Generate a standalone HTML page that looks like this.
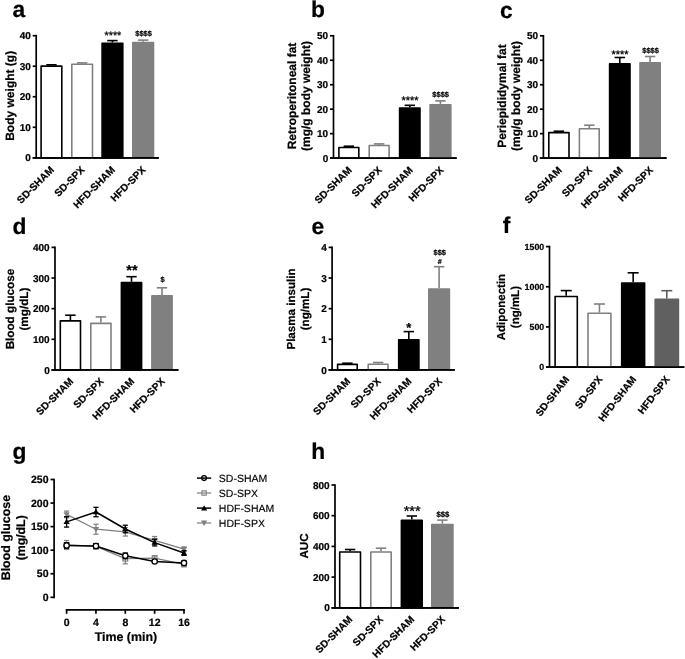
<!DOCTYPE html>
<html lang="en"><head><meta charset="utf-8"><title>Figure</title>
<style>
html,body{margin:0;padding:0;background:#fff;}
body{width:685px;height:659px;overflow:hidden;}
svg{display:block;font-family:"Liberation Sans", sans-serif;will-change:transform;text-rendering:geometricPrecision;}
text{stroke:#000;stroke-width:.22px;stroke-linejoin:round;}
text.n{stroke-width:.15px;}
text.s{stroke-width:.3px;}
</style></head><body>
<svg width="685" height="659" viewBox="0 0 685 659">
<rect width="685" height="659" fill="#fff"/>
<text x="12.50" y="17.40" font-size="22.8" text-anchor="start" font-weight="bold" fill="#000">a</text>
<line x1="36.20" y1="34.85" x2="36.20" y2="158.65" stroke="#000" stroke-width="1.7" stroke-linecap="butt"/>
<line x1="32.70" y1="157.80" x2="158.80" y2="157.80" stroke="#000" stroke-width="1.7" stroke-linecap="butt"/>
<text x="30.90" y="161.40" font-size="10" text-anchor="end" font-weight="bold" fill="#000">0</text>
<line x1="32.70" y1="127.28" x2="36.20" y2="127.28" stroke="#000" stroke-width="1.7" stroke-linecap="butt"/>
<text x="30.90" y="130.88" font-size="10" text-anchor="end" font-weight="bold" fill="#000">10</text>
<line x1="32.70" y1="96.75" x2="36.20" y2="96.75" stroke="#000" stroke-width="1.7" stroke-linecap="butt"/>
<text x="30.90" y="100.35" font-size="10" text-anchor="end" font-weight="bold" fill="#000">20</text>
<line x1="32.70" y1="66.23" x2="36.20" y2="66.23" stroke="#000" stroke-width="1.7" stroke-linecap="butt"/>
<text x="30.90" y="69.83" font-size="10" text-anchor="end" font-weight="bold" fill="#000">30</text>
<line x1="32.70" y1="35.70" x2="36.20" y2="35.70" stroke="#000" stroke-width="1.7" stroke-linecap="butt"/>
<text x="30.90" y="39.30" font-size="10" text-anchor="end" font-weight="bold" fill="#000">40</text>
<line x1="51.45" y1="64.80" x2="51.45" y2="65.30" stroke="#000" stroke-width="1.6" stroke-linecap="butt"/>
<line x1="46.25" y1="64.80" x2="56.65" y2="64.80" stroke="#000" stroke-width="1.6" stroke-linecap="butt"/>
<rect x="41.10" y="66.10" width="20.70" height="91.70" fill="#fff" stroke="#000" stroke-width="1.6" stroke-linejoin="round"/>
<line x1="82.15" y1="62.90" x2="82.15" y2="63.40" stroke="#808080" stroke-width="1.6" stroke-linecap="butt"/>
<line x1="76.95" y1="62.90" x2="87.35" y2="62.90" stroke="#808080" stroke-width="1.6" stroke-linecap="butt"/>
<rect x="71.80" y="64.20" width="20.70" height="93.60" fill="#fff" stroke="#808080" stroke-width="1.6" stroke-linejoin="round"/>
<line x1="112.45" y1="40.60" x2="112.45" y2="42.40" stroke="#000" stroke-width="1.6" stroke-linecap="butt"/>
<line x1="107.25" y1="40.60" x2="117.65" y2="40.60" stroke="#000" stroke-width="1.6" stroke-linecap="butt"/>
<rect x="102.10" y="43.20" width="20.70" height="114.60" fill="#000" stroke="#000" stroke-width="1.6" stroke-linejoin="round"/>
<line x1="143.15" y1="40.10" x2="143.15" y2="41.80" stroke="#808080" stroke-width="1.6" stroke-linecap="butt"/>
<line x1="137.95" y1="40.10" x2="148.35" y2="40.10" stroke="#808080" stroke-width="1.6" stroke-linecap="butt"/>
<rect x="132.80" y="42.60" width="20.70" height="115.20" fill="#808080" stroke="#808080" stroke-width="1.6" stroke-linejoin="round"/>
<line x1="32.70" y1="157.80" x2="158.80" y2="157.80" stroke="#000" stroke-width="1.7" stroke-linecap="butt"/>
<text x="54.70" y="170.50" font-size="10.2" text-anchor="end" font-weight="bold" fill="#000" transform="rotate(-45 54.70 170.50)">SD-SHAM</text>
<text x="85.40" y="170.50" font-size="10.2" text-anchor="end" font-weight="bold" fill="#000" transform="rotate(-45 85.40 170.50)">SD-SPX</text>
<text x="115.80" y="170.50" font-size="10.2" text-anchor="end" font-weight="bold" fill="#000" transform="rotate(-45 115.80 170.50)">HFD-SHAM</text>
<text x="146.40" y="170.50" font-size="10.2" text-anchor="end" font-weight="bold" fill="#000" transform="rotate(-45 146.40 170.50)">HFD-SPX</text>
<text x="112.90" y="38.50" font-size="10.8" text-anchor="middle" font-weight="normal" fill="#000" class="s">****</text>
<text x="143.60" y="35.90" font-size="7.5" text-anchor="middle" font-weight="bold" fill="#000">$$$$</text>
<text x="13.70" y="95.80" font-size="12" text-anchor="middle" font-weight="bold" fill="#000" transform="rotate(-90 13.70 95.80)">Body weight (g)</text>
<text x="311.00" y="17.20" font-size="22.8" text-anchor="start" font-weight="bold" fill="#000">b</text>
<line x1="333.50" y1="34.95" x2="333.50" y2="158.95" stroke="#000" stroke-width="1.7" stroke-linecap="butt"/>
<line x1="330.00" y1="158.10" x2="456.60" y2="158.10" stroke="#000" stroke-width="1.7" stroke-linecap="butt"/>
<text x="328.20" y="161.70" font-size="10" text-anchor="end" font-weight="bold" fill="#000">0</text>
<line x1="330.00" y1="133.64" x2="333.50" y2="133.64" stroke="#000" stroke-width="1.7" stroke-linecap="butt"/>
<text x="328.20" y="137.24" font-size="10" text-anchor="end" font-weight="bold" fill="#000">10</text>
<line x1="330.00" y1="109.18" x2="333.50" y2="109.18" stroke="#000" stroke-width="1.7" stroke-linecap="butt"/>
<text x="328.20" y="112.78" font-size="10" text-anchor="end" font-weight="bold" fill="#000">20</text>
<line x1="330.00" y1="84.72" x2="333.50" y2="84.72" stroke="#000" stroke-width="1.7" stroke-linecap="butt"/>
<text x="328.20" y="88.32" font-size="10" text-anchor="end" font-weight="bold" fill="#000">30</text>
<line x1="330.00" y1="60.26" x2="333.50" y2="60.26" stroke="#000" stroke-width="1.7" stroke-linecap="butt"/>
<text x="328.20" y="63.86" font-size="10" text-anchor="end" font-weight="bold" fill="#000">40</text>
<line x1="330.00" y1="35.80" x2="333.50" y2="35.80" stroke="#000" stroke-width="1.7" stroke-linecap="butt"/>
<text x="328.20" y="39.40" font-size="10" text-anchor="end" font-weight="bold" fill="#000">50</text>
<line x1="348.85" y1="146.20" x2="348.85" y2="146.70" stroke="#000" stroke-width="1.6" stroke-linecap="butt"/>
<line x1="343.65" y1="146.20" x2="354.05" y2="146.20" stroke="#000" stroke-width="1.6" stroke-linecap="butt"/>
<rect x="338.90" y="147.50" width="19.90" height="10.60" fill="#fff" stroke="#000" stroke-width="1.6" stroke-linejoin="round"/>
<line x1="379.15" y1="143.90" x2="379.15" y2="144.70" stroke="#808080" stroke-width="1.6" stroke-linecap="butt"/>
<line x1="373.95" y1="143.90" x2="384.35" y2="143.90" stroke="#808080" stroke-width="1.6" stroke-linecap="butt"/>
<rect x="369.20" y="145.50" width="19.90" height="12.60" fill="#fff" stroke="#808080" stroke-width="1.6" stroke-linejoin="round"/>
<line x1="409.80" y1="105.30" x2="409.80" y2="107.30" stroke="#000" stroke-width="1.6" stroke-linecap="butt"/>
<line x1="404.60" y1="105.30" x2="415.00" y2="105.30" stroke="#000" stroke-width="1.6" stroke-linecap="butt"/>
<rect x="399.60" y="108.10" width="20.40" height="50.00" fill="#000" stroke="#000" stroke-width="1.6" stroke-linejoin="round"/>
<line x1="440.45" y1="100.90" x2="440.45" y2="104.00" stroke="#808080" stroke-width="1.6" stroke-linecap="butt"/>
<line x1="435.25" y1="100.90" x2="445.65" y2="100.90" stroke="#808080" stroke-width="1.6" stroke-linecap="butt"/>
<rect x="430.10" y="104.80" width="20.70" height="53.30" fill="#808080" stroke="#808080" stroke-width="1.6" stroke-linejoin="round"/>
<line x1="330.00" y1="158.10" x2="456.60" y2="158.10" stroke="#000" stroke-width="1.7" stroke-linecap="butt"/>
<text x="352.40" y="170.70" font-size="10.2" text-anchor="end" font-weight="bold" fill="#000" transform="rotate(-45 352.40 170.70)">SD-SHAM</text>
<text x="382.70" y="170.70" font-size="10.2" text-anchor="end" font-weight="bold" fill="#000" transform="rotate(-45 382.70 170.70)">SD-SPX</text>
<text x="413.60" y="170.70" font-size="10.2" text-anchor="end" font-weight="bold" fill="#000" transform="rotate(-45 413.60 170.70)">HFD-SHAM</text>
<text x="444.30" y="170.70" font-size="10.2" text-anchor="end" font-weight="bold" fill="#000" transform="rotate(-45 444.30 170.70)">HFD-SPX</text>
<text x="410.00" y="103.80" font-size="11" text-anchor="middle" font-weight="normal" fill="#000" class="s">****</text>
<text x="440.70" y="96.70" font-size="7.5" text-anchor="middle" font-weight="bold" fill="#000">$$$$</text>
<text x="295.50" y="96.00" font-size="12" text-anchor="middle" font-weight="bold" fill="#000" transform="rotate(-90 295.50 96.00)">Retroperitoneal fat</text>
<text x="309.50" y="96.00" font-size="12" text-anchor="middle" font-weight="bold" fill="#000" transform="rotate(-90 309.50 96.00)">(mg/g body weight)</text>
<text x="500.10" y="17.50" font-size="22.8" text-anchor="start" font-weight="bold" fill="#000">c</text>
<line x1="543.40" y1="34.95" x2="543.40" y2="158.95" stroke="#000" stroke-width="1.7" stroke-linecap="butt"/>
<line x1="539.90" y1="158.10" x2="666.50" y2="158.10" stroke="#000" stroke-width="1.7" stroke-linecap="butt"/>
<text x="538.10" y="161.70" font-size="10" text-anchor="end" font-weight="bold" fill="#000">0</text>
<line x1="539.90" y1="133.64" x2="543.40" y2="133.64" stroke="#000" stroke-width="1.7" stroke-linecap="butt"/>
<text x="538.10" y="137.24" font-size="10" text-anchor="end" font-weight="bold" fill="#000">10</text>
<line x1="539.90" y1="109.18" x2="543.40" y2="109.18" stroke="#000" stroke-width="1.7" stroke-linecap="butt"/>
<text x="538.10" y="112.78" font-size="10" text-anchor="end" font-weight="bold" fill="#000">20</text>
<line x1="539.90" y1="84.72" x2="543.40" y2="84.72" stroke="#000" stroke-width="1.7" stroke-linecap="butt"/>
<text x="538.10" y="88.32" font-size="10" text-anchor="end" font-weight="bold" fill="#000">30</text>
<line x1="539.90" y1="60.26" x2="543.40" y2="60.26" stroke="#000" stroke-width="1.7" stroke-linecap="butt"/>
<text x="538.10" y="63.86" font-size="10" text-anchor="end" font-weight="bold" fill="#000">40</text>
<line x1="539.90" y1="35.80" x2="543.40" y2="35.80" stroke="#000" stroke-width="1.7" stroke-linecap="butt"/>
<text x="538.10" y="39.40" font-size="10" text-anchor="end" font-weight="bold" fill="#000">50</text>
<line x1="558.90" y1="131.20" x2="558.90" y2="131.80" stroke="#000" stroke-width="1.6" stroke-linecap="butt"/>
<line x1="553.70" y1="131.20" x2="564.10" y2="131.20" stroke="#000" stroke-width="1.6" stroke-linecap="butt"/>
<rect x="548.80" y="132.60" width="20.20" height="25.50" fill="#fff" stroke="#000" stroke-width="1.6" stroke-linejoin="round"/>
<line x1="589.30" y1="125.20" x2="589.30" y2="128.00" stroke="#808080" stroke-width="1.6" stroke-linecap="butt"/>
<line x1="584.10" y1="125.20" x2="594.50" y2="125.20" stroke="#808080" stroke-width="1.6" stroke-linecap="butt"/>
<rect x="579.40" y="128.80" width="19.80" height="29.30" fill="#fff" stroke="#808080" stroke-width="1.6" stroke-linejoin="round"/>
<line x1="619.80" y1="57.50" x2="619.80" y2="63.10" stroke="#000" stroke-width="1.6" stroke-linecap="butt"/>
<line x1="614.60" y1="57.50" x2="625.00" y2="57.50" stroke="#000" stroke-width="1.6" stroke-linecap="butt"/>
<rect x="609.60" y="63.90" width="20.40" height="94.20" fill="#000" stroke="#000" stroke-width="1.6" stroke-linejoin="round"/>
<line x1="650.10" y1="56.50" x2="650.10" y2="62.10" stroke="#808080" stroke-width="1.6" stroke-linecap="butt"/>
<line x1="644.90" y1="56.50" x2="655.30" y2="56.50" stroke="#808080" stroke-width="1.6" stroke-linecap="butt"/>
<rect x="640.00" y="62.90" width="20.20" height="95.20" fill="#808080" stroke="#808080" stroke-width="1.6" stroke-linejoin="round"/>
<line x1="539.90" y1="158.10" x2="666.50" y2="158.10" stroke="#000" stroke-width="1.7" stroke-linecap="butt"/>
<text x="562.50" y="170.70" font-size="10.2" text-anchor="end" font-weight="bold" fill="#000" transform="rotate(-45 562.50 170.70)">SD-SHAM</text>
<text x="592.90" y="170.70" font-size="10.2" text-anchor="end" font-weight="bold" fill="#000" transform="rotate(-45 592.90 170.70)">SD-SPX</text>
<text x="623.60" y="170.70" font-size="10.2" text-anchor="end" font-weight="bold" fill="#000" transform="rotate(-45 623.60 170.70)">HFD-SHAM</text>
<text x="653.80" y="170.70" font-size="10.2" text-anchor="end" font-weight="bold" fill="#000" transform="rotate(-45 653.80 170.70)">HFD-SPX</text>
<text x="620.00" y="58.00" font-size="11" text-anchor="middle" font-weight="normal" fill="#000" class="s">****</text>
<text x="650.60" y="52.70" font-size="7.5" text-anchor="middle" font-weight="bold" fill="#000">$$$$</text>
<text x="505.50" y="96.00" font-size="12" text-anchor="middle" font-weight="bold" fill="#000" transform="rotate(-90 505.50 96.00)">Periepididymal fat</text>
<text x="519.50" y="96.00" font-size="12" text-anchor="middle" font-weight="bold" fill="#000" transform="rotate(-90 519.50 96.00)">(mg/g body weight)</text>
<text x="12.40" y="233.60" font-size="22.8" text-anchor="start" font-weight="bold" fill="#000">d</text>
<line x1="55.00" y1="246.55" x2="55.00" y2="370.75" stroke="#000" stroke-width="1.7" stroke-linecap="butt"/>
<line x1="51.50" y1="369.90" x2="178.40" y2="369.90" stroke="#000" stroke-width="1.7" stroke-linecap="butt"/>
<text x="49.70" y="373.50" font-size="10" text-anchor="end" font-weight="bold" fill="#000">0</text>
<line x1="51.50" y1="339.27" x2="55.00" y2="339.27" stroke="#000" stroke-width="1.7" stroke-linecap="butt"/>
<text x="49.70" y="342.88" font-size="10" text-anchor="end" font-weight="bold" fill="#000">100</text>
<line x1="51.50" y1="308.65" x2="55.00" y2="308.65" stroke="#000" stroke-width="1.7" stroke-linecap="butt"/>
<text x="49.70" y="312.25" font-size="10" text-anchor="end" font-weight="bold" fill="#000">200</text>
<line x1="51.50" y1="278.02" x2="55.00" y2="278.02" stroke="#000" stroke-width="1.7" stroke-linecap="butt"/>
<text x="49.70" y="281.62" font-size="10" text-anchor="end" font-weight="bold" fill="#000">300</text>
<line x1="51.50" y1="247.40" x2="55.00" y2="247.40" stroke="#000" stroke-width="1.7" stroke-linecap="butt"/>
<text x="49.70" y="251.00" font-size="10" text-anchor="end" font-weight="bold" fill="#000">400</text>
<line x1="70.40" y1="315.20" x2="70.40" y2="320.10" stroke="#000" stroke-width="1.6" stroke-linecap="butt"/>
<line x1="65.20" y1="315.20" x2="75.60" y2="315.20" stroke="#000" stroke-width="1.6" stroke-linecap="butt"/>
<rect x="60.30" y="320.90" width="20.20" height="49.00" fill="#fff" stroke="#000" stroke-width="1.6" stroke-linejoin="round"/>
<line x1="100.90" y1="316.90" x2="100.90" y2="322.60" stroke="#808080" stroke-width="1.6" stroke-linecap="butt"/>
<line x1="95.70" y1="316.90" x2="106.10" y2="316.90" stroke="#808080" stroke-width="1.6" stroke-linecap="butt"/>
<rect x="90.80" y="323.40" width="20.20" height="46.50" fill="#fff" stroke="#808080" stroke-width="1.6" stroke-linejoin="round"/>
<line x1="131.50" y1="276.70" x2="131.50" y2="281.80" stroke="#000" stroke-width="1.6" stroke-linecap="butt"/>
<line x1="126.30" y1="276.70" x2="136.70" y2="276.70" stroke="#000" stroke-width="1.6" stroke-linecap="butt"/>
<rect x="121.40" y="282.60" width="20.20" height="87.30" fill="#000" stroke="#000" stroke-width="1.6" stroke-linejoin="round"/>
<line x1="162.00" y1="287.80" x2="162.00" y2="295.10" stroke="#808080" stroke-width="1.6" stroke-linecap="butt"/>
<line x1="156.80" y1="287.80" x2="167.20" y2="287.80" stroke="#808080" stroke-width="1.6" stroke-linecap="butt"/>
<rect x="151.90" y="295.90" width="20.20" height="74.00" fill="#808080" stroke="#808080" stroke-width="1.6" stroke-linejoin="round"/>
<line x1="51.50" y1="369.90" x2="178.40" y2="369.90" stroke="#000" stroke-width="1.7" stroke-linecap="butt"/>
<text x="73.90" y="382.00" font-size="10.2" text-anchor="end" font-weight="bold" fill="#000" transform="rotate(-45 73.90 382.00)">SD-SHAM</text>
<text x="104.40" y="382.00" font-size="10.2" text-anchor="end" font-weight="bold" fill="#000" transform="rotate(-45 104.40 382.00)">SD-SPX</text>
<text x="135.00" y="382.00" font-size="10.2" text-anchor="end" font-weight="bold" fill="#000" transform="rotate(-45 135.00 382.00)">HFD-SHAM</text>
<text x="165.50" y="382.00" font-size="10.2" text-anchor="end" font-weight="bold" fill="#000" transform="rotate(-45 165.50 382.00)">HFD-SPX</text>
<text x="131.90" y="274.90" font-size="14.5" text-anchor="middle" font-weight="bold" fill="#000">**</text>
<text x="162.50" y="282.30" font-size="7.5" text-anchor="middle" font-weight="bold" fill="#000">$</text>
<text x="14.20" y="309.10" font-size="11.7" text-anchor="middle" font-weight="bold" fill="#000" transform="rotate(-90 14.20 309.10)">Blood glucose</text>
<text x="28.20" y="309.10" font-size="11.7" text-anchor="middle" font-weight="bold" fill="#000" transform="rotate(-90 28.20 309.10)">(mg/dL)</text>
<text x="311.60" y="233.60" font-size="22.8" text-anchor="start" font-weight="bold" fill="#000">e</text>
<line x1="332.10" y1="246.55" x2="332.10" y2="370.75" stroke="#000" stroke-width="1.7" stroke-linecap="butt"/>
<line x1="328.60" y1="369.90" x2="454.80" y2="369.90" stroke="#000" stroke-width="1.7" stroke-linecap="butt"/>
<text x="326.80" y="373.50" font-size="10" text-anchor="end" font-weight="bold" fill="#000">0</text>
<line x1="328.60" y1="339.27" x2="332.10" y2="339.27" stroke="#000" stroke-width="1.7" stroke-linecap="butt"/>
<text x="326.80" y="342.88" font-size="10" text-anchor="end" font-weight="bold" fill="#000">1</text>
<line x1="328.60" y1="308.65" x2="332.10" y2="308.65" stroke="#000" stroke-width="1.7" stroke-linecap="butt"/>
<text x="326.80" y="312.25" font-size="10" text-anchor="end" font-weight="bold" fill="#000">2</text>
<line x1="328.60" y1="278.02" x2="332.10" y2="278.02" stroke="#000" stroke-width="1.7" stroke-linecap="butt"/>
<text x="326.80" y="281.62" font-size="10" text-anchor="end" font-weight="bold" fill="#000">3</text>
<line x1="328.60" y1="247.40" x2="332.10" y2="247.40" stroke="#000" stroke-width="1.7" stroke-linecap="butt"/>
<text x="326.80" y="251.00" font-size="10" text-anchor="end" font-weight="bold" fill="#000">4</text>
<line x1="347.40" y1="363.20" x2="347.40" y2="363.60" stroke="#000" stroke-width="1.6" stroke-linecap="butt"/>
<line x1="342.20" y1="363.20" x2="352.60" y2="363.20" stroke="#000" stroke-width="1.6" stroke-linecap="butt"/>
<rect x="337.60" y="364.40" width="19.60" height="5.50" fill="#fff" stroke="#000" stroke-width="1.6" stroke-linejoin="round"/>
<line x1="378.10" y1="362.50" x2="378.10" y2="363.40" stroke="#808080" stroke-width="1.6" stroke-linecap="butt"/>
<line x1="372.90" y1="362.50" x2="383.30" y2="362.50" stroke="#808080" stroke-width="1.6" stroke-linecap="butt"/>
<rect x="368.20" y="364.20" width="19.80" height="5.70" fill="#fff" stroke="#808080" stroke-width="1.6" stroke-linejoin="round"/>
<line x1="408.80" y1="331.60" x2="408.80" y2="339.00" stroke="#000" stroke-width="1.6" stroke-linecap="butt"/>
<line x1="403.60" y1="331.60" x2="414.00" y2="331.60" stroke="#000" stroke-width="1.6" stroke-linecap="butt"/>
<rect x="398.70" y="339.80" width="20.20" height="30.10" fill="#000" stroke="#000" stroke-width="1.6" stroke-linejoin="round"/>
<line x1="439.10" y1="266.70" x2="439.10" y2="288.20" stroke="#808080" stroke-width="1.6" stroke-linecap="butt"/>
<line x1="433.90" y1="266.70" x2="444.30" y2="266.70" stroke="#808080" stroke-width="1.6" stroke-linecap="butt"/>
<rect x="428.80" y="289.00" width="20.60" height="80.90" fill="#808080" stroke="#808080" stroke-width="1.6" stroke-linejoin="round"/>
<line x1="328.60" y1="369.90" x2="454.80" y2="369.90" stroke="#000" stroke-width="1.7" stroke-linecap="butt"/>
<text x="350.90" y="382.00" font-size="10.2" text-anchor="end" font-weight="bold" fill="#000" transform="rotate(-45 350.90 382.00)">SD-SHAM</text>
<text x="381.60" y="382.00" font-size="10.2" text-anchor="end" font-weight="bold" fill="#000" transform="rotate(-45 381.60 382.00)">SD-SPX</text>
<text x="412.30" y="382.00" font-size="10.2" text-anchor="end" font-weight="bold" fill="#000" transform="rotate(-45 412.30 382.00)">HFD-SHAM</text>
<text x="442.90" y="382.00" font-size="10.2" text-anchor="end" font-weight="bold" fill="#000" transform="rotate(-45 442.90 382.00)">HFD-SPX</text>
<text x="408.90" y="331.60" font-size="13" text-anchor="middle" font-weight="bold" fill="#000">*</text>
<text x="439.80" y="255.20" font-size="7.5" text-anchor="middle" font-weight="bold" fill="#000">$$$</text>
<text x="439.80" y="264.20" font-size="7" text-anchor="middle" font-weight="bold" fill="#000">#</text>
<text x="295.30" y="309.00" font-size="11.6" text-anchor="middle" font-weight="bold" fill="#000" transform="rotate(-90 295.30 309.00)">Plasma insulin</text>
<text x="309.30" y="309.00" font-size="11.6" text-anchor="middle" font-weight="bold" fill="#000" transform="rotate(-90 309.30 309.00)">(ng/mL)</text>
<text x="502.70" y="233.40" font-size="22.8" text-anchor="start" font-weight="bold" fill="#000">f</text>
<line x1="549.50" y1="245.75" x2="549.50" y2="367.95" stroke="#000" stroke-width="1.7" stroke-linecap="butt"/>
<line x1="546.00" y1="367.10" x2="684.30" y2="367.10" stroke="#000" stroke-width="1.7" stroke-linecap="butt"/>
<text x="544.20" y="370.27" font-size="8.8" text-anchor="end" font-weight="bold" fill="#000">0</text>
<line x1="546.00" y1="326.93" x2="549.50" y2="326.93" stroke="#000" stroke-width="1.7" stroke-linecap="butt"/>
<text x="544.20" y="330.10" font-size="8.8" text-anchor="end" font-weight="bold" fill="#000">500</text>
<line x1="546.00" y1="286.77" x2="549.50" y2="286.77" stroke="#000" stroke-width="1.7" stroke-linecap="butt"/>
<text x="544.20" y="289.93" font-size="8.8" text-anchor="end" font-weight="bold" fill="#000">1000</text>
<line x1="546.00" y1="246.60" x2="549.50" y2="246.60" stroke="#000" stroke-width="1.7" stroke-linecap="butt"/>
<text x="544.20" y="249.77" font-size="8.8" text-anchor="end" font-weight="bold" fill="#000">1500</text>
<line x1="566.20" y1="290.60" x2="566.20" y2="295.70" stroke="#000" stroke-width="1.6" stroke-linecap="butt"/>
<line x1="560.70" y1="290.60" x2="571.70" y2="290.60" stroke="#000" stroke-width="1.6" stroke-linecap="butt"/>
<rect x="555.10" y="296.50" width="22.20" height="70.60" fill="#fff" stroke="#000" stroke-width="1.6" stroke-linejoin="round"/>
<line x1="599.45" y1="304.00" x2="599.45" y2="312.50" stroke="#808080" stroke-width="1.6" stroke-linecap="butt"/>
<line x1="593.95" y1="304.00" x2="604.95" y2="304.00" stroke="#808080" stroke-width="1.6" stroke-linecap="butt"/>
<rect x="588.00" y="313.30" width="22.90" height="53.80" fill="#fff" stroke="#808080" stroke-width="1.6" stroke-linejoin="round"/>
<line x1="633.15" y1="272.80" x2="633.15" y2="282.30" stroke="#000" stroke-width="1.6" stroke-linecap="butt"/>
<line x1="627.65" y1="272.80" x2="638.65" y2="272.80" stroke="#000" stroke-width="1.6" stroke-linecap="butt"/>
<rect x="621.70" y="283.10" width="22.90" height="84.00" fill="#000" stroke="#000" stroke-width="1.6" stroke-linejoin="round"/>
<line x1="666.80" y1="290.70" x2="666.80" y2="298.50" stroke="#606060" stroke-width="1.6" stroke-linecap="butt"/>
<line x1="661.30" y1="290.70" x2="672.30" y2="290.70" stroke="#606060" stroke-width="1.6" stroke-linecap="butt"/>
<rect x="655.20" y="299.30" width="23.20" height="67.80" fill="#606060" stroke="#606060" stroke-width="1.6" stroke-linejoin="round"/>
<line x1="546.00" y1="367.10" x2="684.30" y2="367.10" stroke="#000" stroke-width="1.7" stroke-linecap="butt"/>
<text x="569.70" y="379.50" font-size="10.2" text-anchor="end" font-weight="bold" fill="#000" transform="rotate(-52 569.70 379.50)">SD-SHAM</text>
<text x="603.00" y="379.50" font-size="10.2" text-anchor="end" font-weight="bold" fill="#000" transform="rotate(-52 603.00 379.50)">SD-SPX</text>
<text x="636.70" y="379.50" font-size="10.2" text-anchor="end" font-weight="bold" fill="#000" transform="rotate(-52 636.70 379.50)">HFD-SHAM</text>
<text x="670.30" y="379.50" font-size="10.2" text-anchor="end" font-weight="bold" fill="#000" transform="rotate(-52 670.30 379.50)">HFD-SPX</text>
<text x="505.00" y="307.10" font-size="11.5" text-anchor="middle" font-weight="bold" fill="#000" transform="rotate(-90 505.00 307.10)">Adiponectin</text>
<text x="518.60" y="307.10" font-size="11.5" text-anchor="middle" font-weight="bold" fill="#000" transform="rotate(-90 518.60 307.10)">(ng/mL)</text>
<text x="311.20" y="458.80" font-size="22.8" text-anchor="start" font-weight="bold" fill="#000">h</text>
<line x1="335.00" y1="484.15" x2="335.00" y2="608.65" stroke="#000" stroke-width="1.7" stroke-linecap="butt"/>
<line x1="331.50" y1="607.80" x2="458.80" y2="607.80" stroke="#000" stroke-width="1.7" stroke-linecap="butt"/>
<text x="329.70" y="611.40" font-size="10" text-anchor="end" font-weight="bold" fill="#000">0</text>
<line x1="331.50" y1="577.10" x2="335.00" y2="577.10" stroke="#000" stroke-width="1.7" stroke-linecap="butt"/>
<text x="329.70" y="580.70" font-size="10" text-anchor="end" font-weight="bold" fill="#000">200</text>
<line x1="331.50" y1="546.40" x2="335.00" y2="546.40" stroke="#000" stroke-width="1.7" stroke-linecap="butt"/>
<text x="329.70" y="550.00" font-size="10" text-anchor="end" font-weight="bold" fill="#000">400</text>
<line x1="331.50" y1="515.70" x2="335.00" y2="515.70" stroke="#000" stroke-width="1.7" stroke-linecap="butt"/>
<text x="329.70" y="519.30" font-size="10" text-anchor="end" font-weight="bold" fill="#000">600</text>
<line x1="331.50" y1="485.00" x2="335.00" y2="485.00" stroke="#000" stroke-width="1.7" stroke-linecap="butt"/>
<text x="329.70" y="488.60" font-size="10" text-anchor="end" font-weight="bold" fill="#000">800</text>
<line x1="350.10" y1="549.50" x2="350.10" y2="551.20" stroke="#000" stroke-width="1.6" stroke-linecap="butt"/>
<line x1="344.90" y1="549.50" x2="355.30" y2="549.50" stroke="#000" stroke-width="1.6" stroke-linecap="butt"/>
<rect x="339.70" y="552.00" width="20.80" height="55.80" fill="#fff" stroke="#000" stroke-width="1.6" stroke-linejoin="round"/>
<line x1="381.00" y1="548.20" x2="381.00" y2="551.20" stroke="#808080" stroke-width="1.6" stroke-linecap="butt"/>
<line x1="375.80" y1="548.20" x2="386.20" y2="548.20" stroke="#808080" stroke-width="1.6" stroke-linecap="butt"/>
<rect x="370.80" y="552.00" width="20.40" height="55.80" fill="#fff" stroke="#808080" stroke-width="1.6" stroke-linejoin="round"/>
<line x1="411.80" y1="516.00" x2="411.80" y2="519.60" stroke="#000" stroke-width="1.6" stroke-linecap="butt"/>
<line x1="406.60" y1="516.00" x2="417.00" y2="516.00" stroke="#000" stroke-width="1.6" stroke-linecap="butt"/>
<rect x="401.40" y="520.40" width="20.80" height="87.40" fill="#000" stroke="#000" stroke-width="1.6" stroke-linejoin="round"/>
<line x1="442.35" y1="520.10" x2="442.35" y2="523.80" stroke="#808080" stroke-width="1.6" stroke-linecap="butt"/>
<line x1="437.15" y1="520.10" x2="447.55" y2="520.10" stroke="#808080" stroke-width="1.6" stroke-linecap="butt"/>
<rect x="431.80" y="524.60" width="21.10" height="83.20" fill="#808080" stroke="#808080" stroke-width="1.6" stroke-linejoin="round"/>
<line x1="331.50" y1="607.80" x2="458.80" y2="607.80" stroke="#000" stroke-width="1.7" stroke-linecap="butt"/>
<text x="353.10" y="620.00" font-size="10.2" text-anchor="end" font-weight="bold" fill="#000" transform="rotate(-45 353.10 620.00)">SD-SHAM</text>
<text x="383.70" y="620.00" font-size="10.2" text-anchor="end" font-weight="bold" fill="#000" transform="rotate(-45 383.70 620.00)">SD-SPX</text>
<text x="415.00" y="620.00" font-size="10.2" text-anchor="end" font-weight="bold" fill="#000" transform="rotate(-45 415.00 620.00)">HFD-SHAM</text>
<text x="445.80" y="620.00" font-size="10.2" text-anchor="end" font-weight="bold" fill="#000" transform="rotate(-45 445.80 620.00)">HFD-SPX</text>
<text x="412.10" y="515.60" font-size="14.5" text-anchor="middle" font-weight="normal" fill="#000" class="s">***</text>
<text x="442.80" y="516.70" font-size="7.7" text-anchor="middle" font-weight="bold" fill="#000">$$$</text>
<text x="307.70" y="546.00" font-size="11.6" text-anchor="middle" font-weight="bold" fill="#000" transform="rotate(-90 307.70 546.00)">AUC</text>
<text x="12.40" y="459.20" font-size="22.8" text-anchor="start" font-weight="bold" fill="#000">g</text>
<line x1="54.10" y1="478.65" x2="54.10" y2="598.15" stroke="#000" stroke-width="1.7" stroke-linecap="butt"/>
<line x1="50.50" y1="597.30" x2="54.10" y2="597.30" stroke="#000" stroke-width="1.7" stroke-linecap="butt"/>
<text x="48.50" y="601.05" font-size="10.5" text-anchor="end" font-weight="bold" fill="#000">0</text>
<line x1="50.50" y1="573.74" x2="54.10" y2="573.74" stroke="#000" stroke-width="1.7" stroke-linecap="butt"/>
<text x="48.50" y="577.49" font-size="10.5" text-anchor="end" font-weight="bold" fill="#000">50</text>
<line x1="50.50" y1="550.18" x2="54.10" y2="550.18" stroke="#000" stroke-width="1.7" stroke-linecap="butt"/>
<text x="48.50" y="553.93" font-size="10.5" text-anchor="end" font-weight="bold" fill="#000">100</text>
<line x1="50.50" y1="526.62" x2="54.10" y2="526.62" stroke="#000" stroke-width="1.7" stroke-linecap="butt"/>
<text x="48.50" y="530.37" font-size="10.5" text-anchor="end" font-weight="bold" fill="#000">150</text>
<line x1="50.50" y1="503.06" x2="54.10" y2="503.06" stroke="#000" stroke-width="1.7" stroke-linecap="butt"/>
<text x="48.50" y="506.81" font-size="10.5" text-anchor="end" font-weight="bold" fill="#000">200</text>
<line x1="50.50" y1="479.50" x2="54.10" y2="479.50" stroke="#000" stroke-width="1.7" stroke-linecap="butt"/>
<text x="48.50" y="483.25" font-size="10.5" text-anchor="end" font-weight="bold" fill="#000">250</text>
<line x1="65.75" y1="609.80" x2="184.85" y2="609.80" stroke="#000" stroke-width="1.7" stroke-linecap="butt"/>
<line x1="66.60" y1="609.80" x2="66.60" y2="613.80" stroke="#000" stroke-width="1.7" stroke-linecap="butt"/>
<text x="66.60" y="626.20" font-size="10.5" text-anchor="middle" font-weight="bold" fill="#000">0</text>
<line x1="95.95" y1="609.80" x2="95.95" y2="613.80" stroke="#000" stroke-width="1.7" stroke-linecap="butt"/>
<text x="95.95" y="626.20" font-size="10.5" text-anchor="middle" font-weight="bold" fill="#000">4</text>
<line x1="125.30" y1="609.80" x2="125.30" y2="613.80" stroke="#000" stroke-width="1.7" stroke-linecap="butt"/>
<text x="125.30" y="626.20" font-size="10.5" text-anchor="middle" font-weight="bold" fill="#000">8</text>
<line x1="154.65" y1="609.80" x2="154.65" y2="613.80" stroke="#000" stroke-width="1.7" stroke-linecap="butt"/>
<text x="154.65" y="626.20" font-size="10.5" text-anchor="middle" font-weight="bold" fill="#000">12</text>
<line x1="184.00" y1="609.80" x2="184.00" y2="613.80" stroke="#000" stroke-width="1.7" stroke-linecap="butt"/>
<text x="184.00" y="626.20" font-size="10.5" text-anchor="middle" font-weight="bold" fill="#000">16</text>
<text x="125.90" y="641.00" font-size="12.4" text-anchor="middle" font-weight="bold" fill="#000">Time (min)</text>
<text x="9.90" y="537.60" font-size="12.4" text-anchor="middle" font-weight="bold" fill="#000" transform="rotate(-90 9.90 537.60)">Blood glucose</text>
<text x="24.70" y="537.80" font-size="12.3" text-anchor="middle" font-weight="bold" fill="#000" transform="rotate(-90 24.70 537.80)">(mg/dL)</text>
<line x1="66.60" y1="511.07" x2="66.60" y2="517.67" stroke="#808080" stroke-width="1.25" stroke-linecap="butt"/>
<line x1="64.00" y1="511.07" x2="69.20" y2="511.07" stroke="#808080" stroke-width="1.25" stroke-linecap="butt"/>
<line x1="64.00" y1="517.67" x2="69.20" y2="517.67" stroke="#808080" stroke-width="1.25" stroke-linecap="butt"/>
<line x1="95.95" y1="524.26" x2="95.95" y2="534.16" stroke="#808080" stroke-width="1.25" stroke-linecap="butt"/>
<line x1="93.35" y1="524.26" x2="98.55" y2="524.26" stroke="#808080" stroke-width="1.25" stroke-linecap="butt"/>
<line x1="93.35" y1="534.16" x2="98.55" y2="534.16" stroke="#808080" stroke-width="1.25" stroke-linecap="butt"/>
<line x1="125.30" y1="527.56" x2="125.30" y2="536.04" stroke="#808080" stroke-width="1.25" stroke-linecap="butt"/>
<line x1="122.70" y1="527.56" x2="127.90" y2="527.56" stroke="#808080" stroke-width="1.25" stroke-linecap="butt"/>
<line x1="122.70" y1="536.04" x2="127.90" y2="536.04" stroke="#808080" stroke-width="1.25" stroke-linecap="butt"/>
<line x1="154.65" y1="536.52" x2="154.65" y2="544.05" stroke="#808080" stroke-width="1.25" stroke-linecap="butt"/>
<line x1="152.05" y1="536.52" x2="157.25" y2="536.52" stroke="#808080" stroke-width="1.25" stroke-linecap="butt"/>
<line x1="152.05" y1="544.05" x2="157.25" y2="544.05" stroke="#808080" stroke-width="1.25" stroke-linecap="butt"/>
<line x1="184.00" y1="546.88" x2="184.00" y2="551.59" stroke="#808080" stroke-width="1.25" stroke-linecap="butt"/>
<line x1="181.40" y1="546.88" x2="186.60" y2="546.88" stroke="#808080" stroke-width="1.25" stroke-linecap="butt"/>
<line x1="181.40" y1="551.59" x2="186.60" y2="551.59" stroke="#808080" stroke-width="1.25" stroke-linecap="butt"/>
<polyline points="66.60,514.37 95.95,529.21 125.30,531.80 154.65,540.28 184.00,549.24" fill="none" stroke="#808080" stroke-width="1.3" stroke-linejoin="round"/>
<polygon points="66.60,517.57 69.70,512.17 63.50,512.17" fill="#808080"/>
<polygon points="95.95,532.41 99.05,527.01 92.85,527.01" fill="#808080"/>
<polygon points="125.30,535.00 128.40,529.60 122.20,529.60" fill="#808080"/>
<polygon points="154.65,543.48 157.75,538.08 151.55,538.08" fill="#808080"/>
<polygon points="184.00,552.44 187.10,547.04 180.90,547.04" fill="#808080"/>
<line x1="66.60" y1="540.52" x2="66.60" y2="549.47" stroke="#808080" stroke-width="1.25" stroke-linecap="butt"/>
<line x1="64.00" y1="540.52" x2="69.20" y2="540.52" stroke="#808080" stroke-width="1.25" stroke-linecap="butt"/>
<line x1="64.00" y1="549.47" x2="69.20" y2="549.47" stroke="#808080" stroke-width="1.25" stroke-linecap="butt"/>
<line x1="95.95" y1="543.58" x2="95.95" y2="549.24" stroke="#808080" stroke-width="1.25" stroke-linecap="butt"/>
<line x1="93.35" y1="543.58" x2="98.55" y2="543.58" stroke="#808080" stroke-width="1.25" stroke-linecap="butt"/>
<line x1="93.35" y1="549.24" x2="98.55" y2="549.24" stroke="#808080" stroke-width="1.25" stroke-linecap="butt"/>
<line x1="125.30" y1="553.48" x2="125.30" y2="563.84" stroke="#808080" stroke-width="1.25" stroke-linecap="butt"/>
<line x1="122.70" y1="553.48" x2="127.90" y2="553.48" stroke="#808080" stroke-width="1.25" stroke-linecap="butt"/>
<line x1="122.70" y1="563.84" x2="127.90" y2="563.84" stroke="#808080" stroke-width="1.25" stroke-linecap="butt"/>
<line x1="154.65" y1="555.83" x2="154.65" y2="560.55" stroke="#808080" stroke-width="1.25" stroke-linecap="butt"/>
<line x1="152.05" y1="555.83" x2="157.25" y2="555.83" stroke="#808080" stroke-width="1.25" stroke-linecap="butt"/>
<line x1="152.05" y1="560.55" x2="157.25" y2="560.55" stroke="#808080" stroke-width="1.25" stroke-linecap="butt"/>
<line x1="184.00" y1="561.96" x2="184.00" y2="566.67" stroke="#808080" stroke-width="1.25" stroke-linecap="butt"/>
<line x1="181.40" y1="561.96" x2="186.60" y2="561.96" stroke="#808080" stroke-width="1.25" stroke-linecap="butt"/>
<line x1="181.40" y1="566.67" x2="186.60" y2="566.67" stroke="#808080" stroke-width="1.25" stroke-linecap="butt"/>
<polyline points="66.60,545.00 95.95,546.41 125.30,558.66 154.65,558.19 184.00,564.32" fill="none" stroke="#808080" stroke-width="1.3" stroke-linejoin="round"/>
<rect x="64.20" y="542.60" width="4.80" height="4.80" fill="none" stroke="#808080" stroke-width="1.15"/>
<rect x="93.55" y="544.01" width="4.80" height="4.80" fill="none" stroke="#808080" stroke-width="1.15"/>
<rect x="122.90" y="556.26" width="4.80" height="4.80" fill="none" stroke="#808080" stroke-width="1.15"/>
<rect x="152.25" y="555.79" width="4.80" height="4.80" fill="none" stroke="#808080" stroke-width="1.15"/>
<rect x="181.60" y="561.92" width="4.80" height="4.80" fill="none" stroke="#808080" stroke-width="1.15"/>
<line x1="66.60" y1="516.72" x2="66.60" y2="527.09" stroke="#000" stroke-width="1.3" stroke-linecap="butt"/>
<line x1="64.00" y1="516.72" x2="69.20" y2="516.72" stroke="#000" stroke-width="1.3" stroke-linecap="butt"/>
<line x1="64.00" y1="527.09" x2="69.20" y2="527.09" stroke="#000" stroke-width="1.3" stroke-linecap="butt"/>
<line x1="95.95" y1="507.30" x2="95.95" y2="516.72" stroke="#000" stroke-width="1.3" stroke-linecap="butt"/>
<line x1="93.35" y1="507.30" x2="98.55" y2="507.30" stroke="#000" stroke-width="1.3" stroke-linecap="butt"/>
<line x1="93.35" y1="516.72" x2="98.55" y2="516.72" stroke="#000" stroke-width="1.3" stroke-linecap="butt"/>
<line x1="125.30" y1="525.21" x2="125.30" y2="532.75" stroke="#000" stroke-width="1.3" stroke-linecap="butt"/>
<line x1="122.70" y1="525.21" x2="127.90" y2="525.21" stroke="#000" stroke-width="1.3" stroke-linecap="butt"/>
<line x1="122.70" y1="532.75" x2="127.90" y2="532.75" stroke="#000" stroke-width="1.3" stroke-linecap="butt"/>
<line x1="154.65" y1="539.34" x2="154.65" y2="545.94" stroke="#000" stroke-width="1.3" stroke-linecap="butt"/>
<line x1="152.05" y1="539.34" x2="157.25" y2="539.34" stroke="#000" stroke-width="1.3" stroke-linecap="butt"/>
<line x1="152.05" y1="545.94" x2="157.25" y2="545.94" stroke="#000" stroke-width="1.3" stroke-linecap="butt"/>
<line x1="184.00" y1="550.65" x2="184.00" y2="555.36" stroke="#000" stroke-width="1.3" stroke-linecap="butt"/>
<line x1="181.40" y1="550.65" x2="186.60" y2="550.65" stroke="#000" stroke-width="1.3" stroke-linecap="butt"/>
<line x1="181.40" y1="555.36" x2="186.60" y2="555.36" stroke="#000" stroke-width="1.3" stroke-linecap="butt"/>
<polyline points="66.60,521.91 95.95,512.01 125.30,528.98 154.65,542.64 184.00,553.01" fill="none" stroke="#000" stroke-width="1.5" stroke-linejoin="round"/>
<polygon points="66.60,518.71 69.70,524.11 63.50,524.11" fill="#000"/>
<polygon points="95.95,508.81 99.05,514.21 92.85,514.21" fill="#000"/>
<polygon points="125.30,525.78 128.40,531.18 122.20,531.18" fill="#000"/>
<polygon points="154.65,539.44 157.75,544.84 151.55,544.84" fill="#000"/>
<polygon points="184.00,549.81 187.10,555.21 180.90,555.21" fill="#000"/>
<line x1="66.60" y1="542.64" x2="66.60" y2="548.30" stroke="#000" stroke-width="1.3" stroke-linecap="butt"/>
<line x1="64.00" y1="542.64" x2="69.20" y2="542.64" stroke="#000" stroke-width="1.3" stroke-linecap="butt"/>
<line x1="64.00" y1="548.30" x2="69.20" y2="548.30" stroke="#000" stroke-width="1.3" stroke-linecap="butt"/>
<line x1="95.95" y1="543.58" x2="95.95" y2="548.30" stroke="#000" stroke-width="1.3" stroke-linecap="butt"/>
<line x1="93.35" y1="543.58" x2="98.55" y2="543.58" stroke="#000" stroke-width="1.3" stroke-linecap="butt"/>
<line x1="93.35" y1="548.30" x2="98.55" y2="548.30" stroke="#000" stroke-width="1.3" stroke-linecap="butt"/>
<line x1="125.30" y1="553.01" x2="125.30" y2="558.66" stroke="#000" stroke-width="1.3" stroke-linecap="butt"/>
<line x1="122.70" y1="553.01" x2="127.90" y2="553.01" stroke="#000" stroke-width="1.3" stroke-linecap="butt"/>
<line x1="122.70" y1="558.66" x2="127.90" y2="558.66" stroke="#000" stroke-width="1.3" stroke-linecap="butt"/>
<line x1="154.65" y1="560.08" x2="154.65" y2="562.90" stroke="#000" stroke-width="1.3" stroke-linecap="butt"/>
<line x1="152.05" y1="560.08" x2="157.25" y2="560.08" stroke="#000" stroke-width="1.3" stroke-linecap="butt"/>
<line x1="152.05" y1="562.90" x2="157.25" y2="562.90" stroke="#000" stroke-width="1.3" stroke-linecap="butt"/>
<line x1="184.00" y1="561.02" x2="184.00" y2="564.79" stroke="#000" stroke-width="1.3" stroke-linecap="butt"/>
<line x1="181.40" y1="561.02" x2="186.60" y2="561.02" stroke="#000" stroke-width="1.3" stroke-linecap="butt"/>
<line x1="181.40" y1="564.79" x2="186.60" y2="564.79" stroke="#000" stroke-width="1.3" stroke-linecap="butt"/>
<polyline points="66.60,545.47 95.95,545.94 125.30,555.83 154.65,561.49 184.00,562.90" fill="none" stroke="#000" stroke-width="1.5" stroke-linejoin="round"/>
<circle cx="66.60" cy="545.47" r="2.65" fill="#fff" stroke="#000" stroke-width="1.3"/>
<circle cx="95.95" cy="545.94" r="2.65" fill="#fff" stroke="#000" stroke-width="1.3"/>
<circle cx="125.30" cy="555.83" r="2.65" fill="#fff" stroke="#000" stroke-width="1.3"/>
<circle cx="154.65" cy="561.49" r="2.65" fill="#fff" stroke="#000" stroke-width="1.3"/>
<circle cx="184.00" cy="562.90" r="2.65" fill="#fff" stroke="#000" stroke-width="1.3"/>
<line x1="197.00" y1="478.10" x2="211.20" y2="478.10" stroke="#000" stroke-width="1.5" stroke-linecap="butt"/>
<circle cx="204.10" cy="478.10" r="2.38" fill="none" stroke="#000" stroke-width="1.3"/>
<text x="218.80" y="482.00" font-size="10.5" text-anchor="start" font-weight="normal" fill="#000" class="n">SD-SHAM</text>
<line x1="197.00" y1="493.00" x2="211.20" y2="493.00" stroke="#808080" stroke-width="1.2" stroke-linecap="butt"/>
<rect x="201.94" y="490.84" width="4.32" height="4.32" fill="none" stroke="#808080" stroke-width="1.15"/>
<text x="218.80" y="496.90" font-size="10.5" text-anchor="start" font-weight="normal" fill="#000" class="n">SD-SPX</text>
<line x1="197.00" y1="508.10" x2="211.20" y2="508.10" stroke="#000" stroke-width="1.5" stroke-linecap="butt"/>
<polygon points="204.10,505.20 207.20,510.60 201.00,510.60" fill="#000"/>
<text x="218.80" y="512.00" font-size="10.5" text-anchor="start" font-weight="normal" fill="#000" class="n">HDF-SHAM</text>
<line x1="197.00" y1="523.00" x2="211.20" y2="523.00" stroke="#808080" stroke-width="1.2" stroke-linecap="butt"/>
<polygon points="204.10,525.90 207.20,520.50 201.00,520.50" fill="#808080"/>
<text x="218.80" y="526.90" font-size="10.5" text-anchor="start" font-weight="normal" fill="#000" class="n">HDF-SPX</text>
</svg>
</body></html>
